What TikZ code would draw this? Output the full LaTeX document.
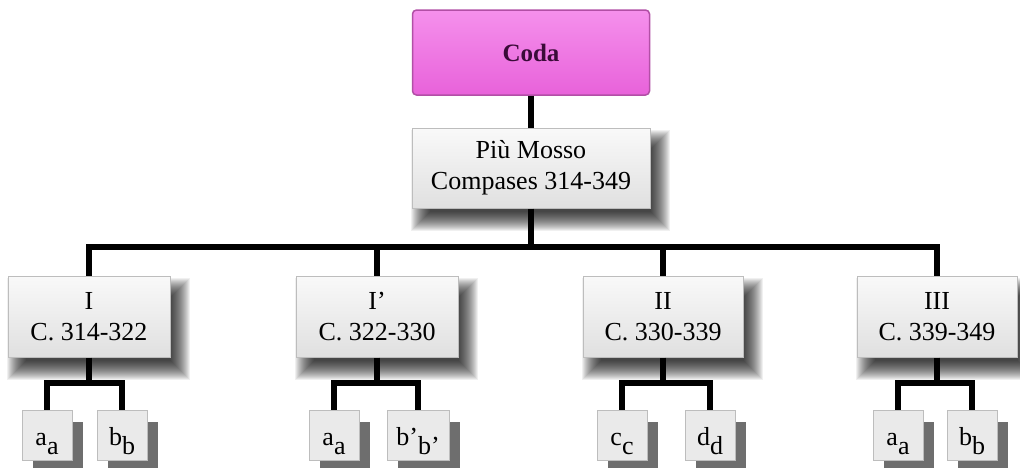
\documentclass[tikz,border=0pt]{standalone}
\usepackage{fontspec}
\setmainfont{Liberation Serif}
\usetikzlibrary{calc}
\pgfdeclarelayer{bg}
\pgfdeclarelayer{shadowlayer}
\pgfsetlayers{bg,shadowlayer,main}
\definecolor{codatop}{HTML}{F590EC}
\definecolor{codabot}{HTML}{E862DA}
\definecolor{codaline}{HTML}{B24FA6}
\definecolor{codatext}{HTML}{3A0B38}
\definecolor{boxtop}{HTML}{F9F9F9}
\definecolor{boxbot}{HTML}{E0E0E0}
\definecolor{boxline}{HTML}{BDBDBD}
\definecolor{leaffill}{HTML}{EAEAEA}
\definecolor{leafshadow}{HTML}{6E6E6E}
\tikzset{
  codabox/.style={draw=codaline, line width=1.5pt, top color=codatop, bottom color=codabot,
    rounded corners=4pt, minimum width=237pt, minimum height=85pt, inner sep=0pt,
    text=codatext, font=\fontsize{25}{30}\selectfont\bfseries},
  secbox/.style={draw=boxline, line width=1pt, top color=boxtop, bottom color=boxbot,
    inner sep=0pt, align=center, font=\fontsize{26}{31}\selectfont},
  leafbox/.style={draw=boxline, line width=0.8pt, fill=leaffill, inner ysep=0pt, inner xsep=2pt,
    minimum width=50pt, text height=35pt, text depth=15pt, font=\fontsize{26}{30}\selectfont},
  conn/.style={line width=5.5pt, black, line join=miter},
}
\newcommand\softshadow[4]{%
  \begin{pgfonlayer}{shadowlayer}
  \foreach \k in {0,...,19}{
    \fill[black,opacity=0.06]
      ($(#1.north west)+(#2-#4+\k*#4/10,#3-#4+\k*#4/10)$) rectangle
      ($(#1.south east)+(#2+#4-\k*#4/10,#3+#4-\k*#4/10)$);
  }
  \end{pgfonlayer}}
\newcommand\leafshadow[1]{%
  \begin{pgfonlayer}{shadowlayer}
    \fill[leafshadow] ($(#1.north west)+(11,12)$) rectangle ($(#1.south east)+(11,12)$);
  \end{pgfonlayer}}
\newcommand\sub[2]{#1\raisebox{-0.38em}{#2}}
\begin{document}
\begin{tikzpicture}[x=1pt,y=-1pt]
\useasboundingbox (0,0) rectangle (1020,467);
\begin{pgfonlayer}{bg}
\fill[white] (0,0) rectangle (1020,467);
\end{pgfonlayer}

\node[codabox] (coda) at (531,52.5) {Coda};
\node[secbox, minimum width=238pt, minimum height=80pt] (pm) at (531,168) {Più Mosso\\Compases 314-349};

\node[secbox, minimum width=162pt, minimum height=81pt] (c1) at (89,316.5) {I\\C. 314-322};
\node[secbox, minimum width=162pt, minimum height=81pt] (c2) at (377,316.5) {I’\\C. 322-330};
\node[secbox, minimum width=160pt, minimum height=81pt] (c3) at (663,316.5) {II\\C. 330-339};
\node[secbox, minimum width=160pt, minimum height=81pt] (c4) at (937,316.5) {III\\C. 339-349};

\node[leafbox] (l1a) at (47,435) {\sub{a}{a}};
\node[leafbox] (l1b) at (122,435) {\sub{b}{b}};
\node[leafbox] (l2a) at (334,435) {\sub{a}{a}};
\node[leafbox, minimum width=62pt] (l2b) at (418,435) {\sub{b’}{b’}};
\node[leafbox] (l3a) at (622,435) {\sub{c}{c}};
\node[leafbox] (l3b) at (710,435) {\sub{d}{d}};
\node[leafbox] (l4a) at (898,435) {\sub{a}{a}};
\node[leafbox] (l4b) at (972,435) {\sub{b}{b}};

\softshadow{pm}{9}{12}{10}
\softshadow{c1}{9}{12}{10}
\softshadow{c2}{9}{12}{10}
\softshadow{c3}{9}{12}{10}
\softshadow{c4}{9}{12}{10}
\foreach \n in {l1a,l1b,l2a,l2b,l3a,l3b,l4a,l4b}{\leafshadow{\n}}

\coordinate (bus) at (0,247);
\coordinate (subbus) at (0,383);

\draw[conn] (coda) -- (pm);
\draw[conn] (pm.south) -- (pm.south |- bus);
\draw[conn] (c1.north) -- (c1.north |- bus) -- (c4.north |- bus) -- (c4.north);
\draw[conn] (c2.north) -- (c2.north |- bus);
\draw[conn] (c3.north) -- (c3.north |- bus);

\draw[conn] (c1.south) -- (c1.south |- subbus);
\draw[conn] (l1a.north) -- (l1a.north |- subbus) -- (l1b.north |- subbus) -- (l1b.north);
\draw[conn] (c2.south) -- (c2.south |- subbus);
\draw[conn] (l2a.north) -- (l2a.north |- subbus) -- (l2b.north |- subbus) -- (l2b.north);
\draw[conn] (c3.south) -- (c3.south |- subbus);
\draw[conn] (l3a.north) -- (l3a.north |- subbus) -- (l3b.north |- subbus) -- (l3b.north);
\draw[conn] (c4.south) -- (c4.south |- subbus);
\draw[conn] (l4a.north) -- (l4a.north |- subbus) -- (l4b.north |- subbus) -- (l4b.north);
\end{tikzpicture}
\end{document}
